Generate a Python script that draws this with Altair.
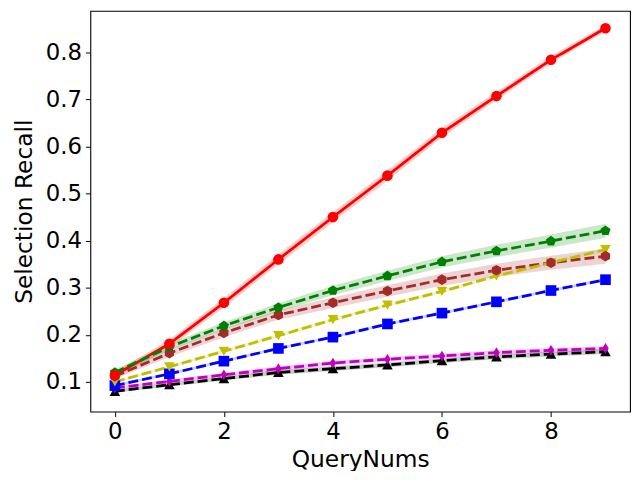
import altair as alt
import pandas as pd

query_nums = [0, 1, 2, 3, 4, 5, 6, 7, 8, 9]

series_names = ["red", "green", "brown", "yellow", "blue", "magenta", "black"]
series_colors = ["#ff0000", "#008000", "#a52a2a", "#bfbf00", "#0000ff", "#bf00bf", "#000000"]
series_shapes = [
    "circle",
    "M0,-1L0.951,-0.309L0.588,0.809L-0.588,0.809L-0.951,-0.309Z",
    "M0,-1L0.866,-0.5L0.866,0.5L0,1L-0.866,0.5L-0.866,-0.5Z",
    "triangle-down",
    "square",
    "M0,-1L0.62,0L0,1L-0.62,0Z",
    "triangle-up",
]
series_dash = [[1, 0], [10, 4], [10, 4], [10, 4], [10, 4], [10, 4], [10, 4]]

red_vals = [0.114, 0.181, 0.268, 0.360, 0.450, 0.538, 0.629, 0.707, 0.784, 0.851]
green_vals = [0.120, 0.174, 0.219, 0.258, 0.294, 0.325, 0.355, 0.378, 0.399, 0.421]
brown_vals = [0.112, 0.161, 0.204, 0.242, 0.268, 0.293, 0.317, 0.337, 0.353, 0.367]
yellow_vals = [0.100, 0.132, 0.165, 0.198, 0.232, 0.263, 0.292, 0.325, 0.353, 0.381]
blue_vals = [0.092, 0.117, 0.144, 0.171, 0.195, 0.223, 0.246, 0.270, 0.294, 0.317]
magenta_vals = [0.087, 0.101, 0.115, 0.128, 0.140, 0.148, 0.155, 0.162, 0.167, 0.171]
black_vals = [0.080, 0.094, 0.107, 0.120, 0.128, 0.136, 0.145, 0.153, 0.159, 0.164]

red_err = [0.007, 0.009, 0.010, 0.011, 0.011, 0.011, 0.010, 0.009, 0.008, 0.007]
green_err = [0.006, 0.007, 0.008, 0.009, 0.010, 0.011, 0.012, 0.013, 0.014, 0.015]
brown_err = [0.006, 0.008, 0.009, 0.010, 0.011, 0.012, 0.013, 0.014, 0.015, 0.016]
yellow_err = [0.003, 0.003, 0.004, 0.004, 0.004, 0.004, 0.004, 0.004, 0.004, 0.004]
blue_err = [0.003, 0.003, 0.003, 0.003, 0.003, 0.003, 0.003, 0.003, 0.003, 0.003]
magenta_err = [0.003, 0.004, 0.004, 0.005, 0.005, 0.005, 0.005, 0.005, 0.005, 0.005]
black_err = [0.003, 0.004, 0.004, 0.005, 0.005, 0.005, 0.005, 0.005, 0.005, 0.005]

all_vals = [red_vals, green_vals, brown_vals, yellow_vals, blue_vals, magenta_vals, black_vals]
all_errs = [red_err, green_err, brown_err, yellow_err, blue_err, magenta_err, black_err]

rows = []
for order, (name, vals, errs) in enumerate(zip(series_names, all_vals, all_errs)):
    for q, v, e in zip(query_nums, vals, errs):
        rows.append({"series": name, "order": -order, "q": q, "v": v, "lo": v - e, "hi": v + e})
df = pd.DataFrame(rows)

xscale = alt.Scale(domain=[-0.45, 9.45], nice=False, zero=False)
yscale = alt.Scale(domain=[0.0368, 0.888], nice=False, zero=False)
color = alt.Color("series:N", scale=alt.Scale(domain=series_names, range=series_colors), legend=None)

font = "DejaVu Sans"
xaxis = alt.Axis(values=[0, 2, 4, 6, 8], title="QueryNums", grid=False, domain=False,
                 tickColor="black", tickSize=5, tickWidth=1, labelFontSize=23, titleFontSize=23.5,
                 labelColor="black", titleColor="black", labelFont=font, titleFont=font,
                 titleFontWeight="normal", labelPadding=4, titlePadding=4, format="d")
yaxis = alt.Axis(values=[0.1, 0.2, 0.3, 0.4, 0.5, 0.6, 0.7, 0.8], title="Selection Recall", grid=False,
                 domain=False, tickColor="black", tickSize=5, tickWidth=1, labelFontSize=23,
                 titleFontSize=23.5, labelColor="black", titleColor="black", labelFont=font,
                 titleFont=font, titleFontWeight="normal", labelPadding=4, titlePadding=9, format=".1f")

base = alt.Chart(df)

bands = base.mark_area(opacity=0.2, interpolate="linear").encode(
    x=alt.X("q:Q", scale=xscale, axis=xaxis),
    y=alt.Y("lo:Q", scale=yscale, axis=yaxis),
    y2="hi:Q",
    color=color,
    order=alt.Order("order:Q"),
    detail="series:N",
)

lines = base.mark_line(strokeWidth=2.8).encode(
    x=alt.X("q:Q", scale=xscale),
    y=alt.Y("v:Q", scale=yscale),
    color=color,
    strokeDash=alt.StrokeDash("series:N", scale=alt.Scale(domain=series_names, range=series_dash), legend=None),
    detail="series:N",
)

points = base.mark_point(filled=True, opacity=1, size=115).encode(
    x=alt.X("q:Q", scale=xscale),
    y=alt.Y("v:Q", scale=yscale),
    color=color,
    shape=alt.Shape("series:N", scale=alt.Scale(domain=series_names, range=series_shapes), legend=None),
    order=alt.Order("order:Q"),
)

chart = alt.layer(bands, lines, points).properties(
    width=544, height=404,
    background="white",
    autosize=alt.AutoSizeParams(type="none"),
    padding={"left": 83, "top": 1, "right": 2, "bottom": 58},
).configure_view(stroke="black", strokeWidth=1.1)

chart.save("out.html", embed_options={"renderer": "svg", "actions": False})
